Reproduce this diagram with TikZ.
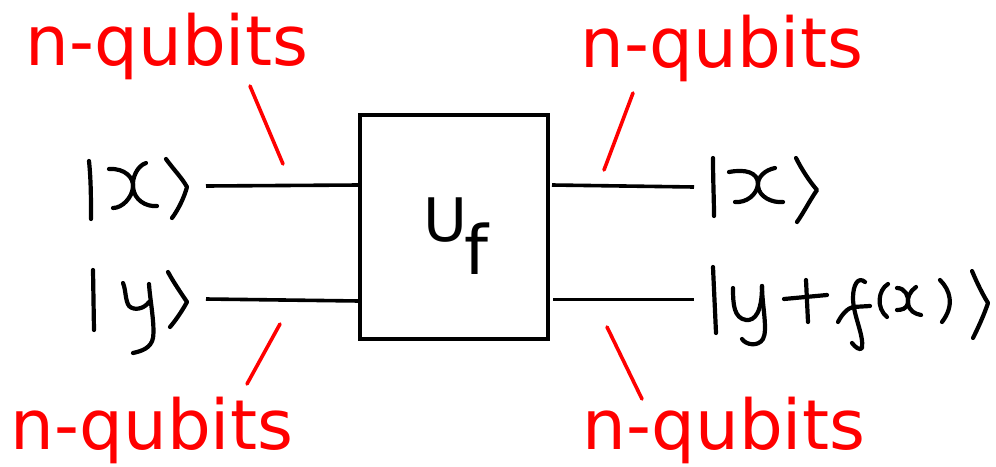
\documentclass[tikz,border=0pt]{standalone}
\usepackage{fontspec}
\setmainfont{DejaVu Sans}
\definecolor{redlab}{RGB}{255,0,0}
\tikzset{
  hand/.style={line width=4.2pt,line cap=round,line join=round,black},
  tick/.style={line width=3.6pt,line cap=round,redlab},
  wire/.style={line width=3.6pt,black},
  lab/.style={text=redlab,font=\fontsize{69}{69}\selectfont,inner sep=0pt,anchor=base},
}
\begin{document}
\begin{tikzpicture}[x=1pt,y=-1pt]
\useasboundingbox (0,0) rectangle (996,466);
\node[draw,line width=4pt,minimum width=188pt,minimum height=224pt,inner sep=0pt] (box) at (454,227) {};
\node[inner sep=0pt,anchor=base west] (uf) at (423,241) {\fontsize{60}{60}\selectfont U\kern-3pt\raisebox{-33pt}{\fontsize{68}{68}\selectfont f}};
% wires
\coordinate (il1) at (206,186); \coordinate (ir1) at (359,185);
\coordinate (il2) at (206,299); \coordinate (ir2) at (359,301);
\coordinate (ol1) at (552,185); \coordinate (or1) at (694,187);
\coordinate (ol2) at (553,299.5); \coordinate (or2) at (694,299.5);
\draw[wire] (il1) -- (ir1);
\draw[wire] (il2) -- (ir2);
\draw[wire] (ol1) -- (or1);
\draw[wire] (ol2) -- (or2);
% labels
\node[lab] (n1) at (167,65) {n-qubits};
\node[lab] (n2) at (722,67) {n-qubits};
\node[lab] (n3) at (152,449.5) {n-qubits};
\node[lab] (n4) at (724,449.5) {n-qubits};
% ticks
\coordinate (t1a) at (250,86); \coordinate (t1b) at (283,164);
\coordinate (t2a) at (633,93); \coordinate (t2b) at (604,170);
\coordinate (t3a) at (280,324); \coordinate (t3b) at (247,384);
\coordinate (t4a) at (607,327); \coordinate (t4b) at (642,399);
\draw[tick] (t1a) -- (t1b);
\draw[tick] (t2a) -- (t2b);
\draw[tick] (t3a) -- (t3b);
\draw[tick] (t4a) -- (t4b);
% left |x>
\draw[hand] (89,161) .. controls (91,180) and (91,200) .. (91,219);
\draw[hand] (109,169) .. controls (125,168) and (134,178) .. (133,187) .. controls (132,198) and (122,208) .. (113,208);
\draw[hand] (146,163) .. controls (137,166) and (132,178) .. (133,187) .. controls (134,200) and (146,207) .. (157,206);
\draw[hand] (166,159) .. controls (174,170) and (182,178) .. (187,187) .. controls (184,198) and (178,210) .. (172,218);
% left |y>
\draw[hand] (93,270) -- (94,330);
\draw[hand] (123,283) .. controls (126,290) and (125,300) .. (129,306) .. controls (134,311) and (144,309) .. (149,302);
\draw[hand] (149,284) .. controls (150,300) and (155,325) .. (153,338) .. controls (151,348) and (142,351) .. (133,353);
\draw[hand] (168,272) .. controls (174,283) and (181,293) .. (187,302) .. controls (182,311) and (176,320) .. (170,327);
% right |x>
\draw[hand] (713,158) .. controls (713,180) and (714,200) .. (714,216);
\draw[hand] (729,172) .. controls (745,169) and (758,172) .. (758,184) .. controls (757,195) and (746,203) .. (735,202);
\draw[hand] (775,168) .. controls (765,170) and (757,177) .. (758,186) .. controls (759,197) and (772,203) .. (783,202);
\draw[hand] (796,158) .. controls (802,170) and (810,182) .. (817,190) .. controls (810,200) and (804,212) .. (797,222);
% right |y+f(x)>
\draw[hand] (713,267) .. controls (714,290) and (715,310) .. (716,333);
\draw[hand] (733,288) .. controls (733,305) and (734,318) .. (746,320) .. controls (755,321) and (762,312) .. (762,286);
\draw[hand] (762,286) .. controls (762,305) and (768,330) .. (763,339) .. controls (758,347) and (746,345) .. (742,339);
\draw[hand] (784,299) -- (827,295);
\draw[hand] (806,280) -- (808,322);
\draw[hand] (865,282) .. controls (858,276) and (853,285) .. (853,298) .. controls (853,315) and (864,335) .. (862,348) .. controls (860,351) and (855,347) .. (852,343);
\draw[hand] (838,322) .. controls (842,314) and (848,308) .. (853,307) -- (870,306);
\draw[hand] (888,284) .. controls (878,290) and (876,308) .. (887,317);
\draw[hand] (897,288) .. controls (905,288) and (909,296) .. (908,303) .. controls (907,309) and (901,310) .. (897,310);
\draw[hand] (916,287) .. controls (910,291) and (907,298) .. (908,303) .. controls (909,311) and (915,314) .. (921,315);
\draw[hand] (940,280) .. controls (950,290) and (955,305) .. (942,322);
\draw[hand] (972,271) .. controls (977,283) and (983,295) .. (988,303) .. controls (984,315) and (978,328) .. (973,338);
\end{tikzpicture}
\end{document}
